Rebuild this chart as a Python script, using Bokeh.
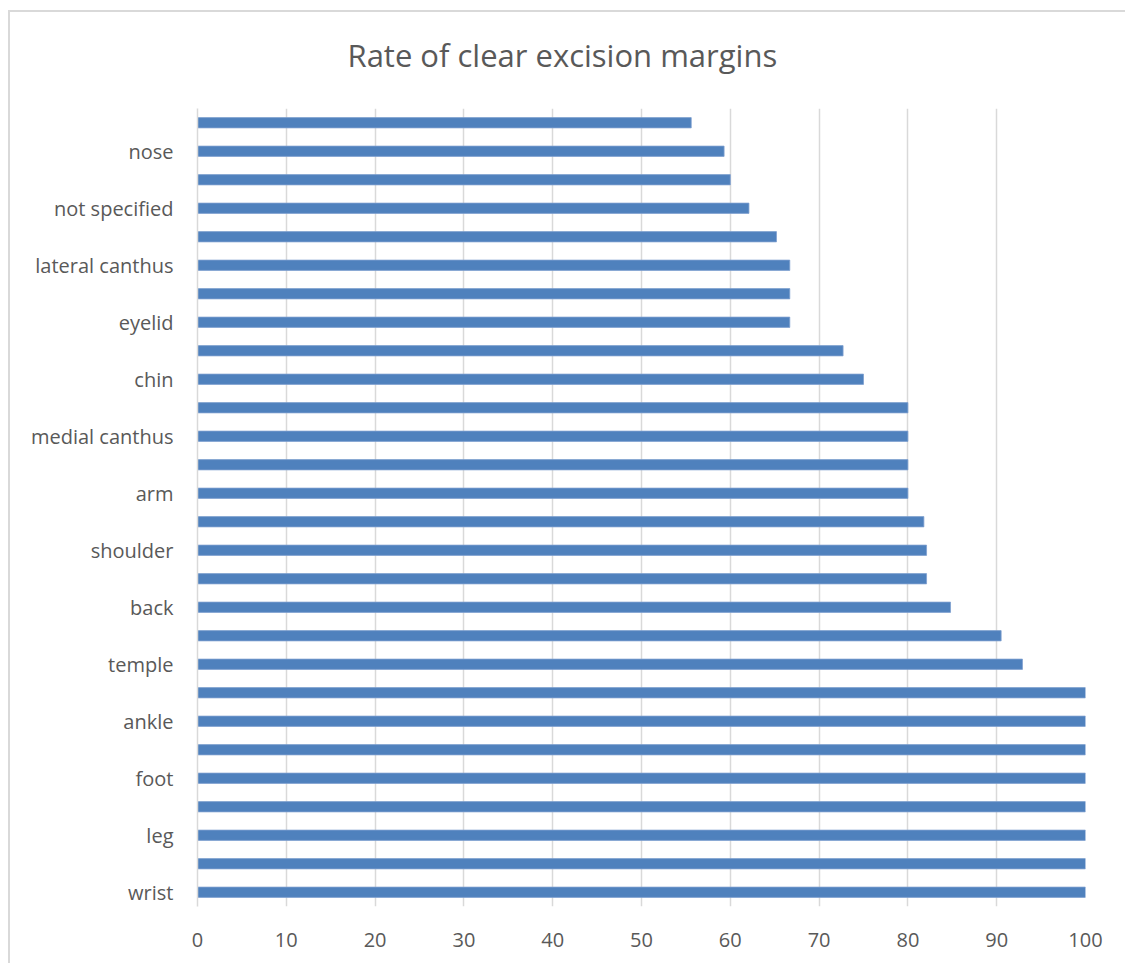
from bokeh.plotting import figure
from bokeh.models import FixedTicker, Range1d
from bokeh.embed import file_html
from bokeh.resources import INLINE

# Data (bottom to top)
title_text = "Rate of clear excision margins"
labels = ["wrist", "", "leg", "", "foot", "", "ankle", "", "temple", "", "back", "",
          "shoulder", "", "arm", "", "medial canthus", "", "chin", "", "eyelid", "",
          "lateral canthus", "", "not specified", "", "nose", ""]
values = [100, 100, 100, 100, 100, 100, 100, 100, 92.9, 90.5, 84.8, 82.1,
          82.1, 81.8, 80, 80, 80, 80, 75, 72.7, 66.7, 66.7,
          66.7, 65.2, 62.1, 60, 59.3, 55.6]
x_ticks = [0, 10, 20, 30, 40, 50, 60, 70, 80, 90, 100]

positions = list(range(len(values)))

p = figure(width=1117, height=963, output_backend="svg", toolbar_location=None,
           x_range=Range1d(0, 100), y_range=Range1d(-0.5, len(values) - 0.5),
           title=title_text)
p.margin = (0, 0, 0, 8)
p.border_fill_color = None
p.background_fill_color = None
p.styles = {
    "background": "linear-gradient(#d9d9d9, #d9d9d9) 0 10px / 100% 2px no-repeat, "
                  "linear-gradient(#d9d9d9, #d9d9d9) 0 10px / 2px 100% no-repeat, white",
}

p.min_border_left = 189
p.min_border_right = 40
p.min_border_top = 108
p.min_border_bottom = 57

p.title.align = "left"
p.title.vertical_align = "top"
p.title.offset = 150
p.title.text_font = "Open Sans"
p.title.text_font_size = "31px"
p.title.text_font_style = "normal"
p.title.text_color = "#595959"
p.title.standoff = 62

p.hbar(y=positions, right=values, left=0, height=0.36,
       fill_color="#4f81bd", line_color="#7f9fcf", line_width=0.8)

p.outline_line_color = None
p.ygrid.grid_line_color = None
p.xgrid.grid_line_color = "#d9d9d9"
p.xgrid.grid_line_width = 1.5
p.xgrid.ticker = FixedTicker(ticks=x_ticks)

p.xaxis.ticker = FixedTicker(ticks=x_ticks)
p.xaxis.axis_line_color = None
p.xaxis.major_tick_line_color = None
p.xaxis.minor_tick_line_color = None
p.xaxis.major_label_text_font = "Open Sans"
p.xaxis.major_label_text_font_size = "20px"
p.xaxis.major_label_text_color = "#595959"
p.xaxis.major_label_standoff = 20

p.yaxis.ticker = FixedTicker(ticks=[i for i, l in enumerate(labels) if l])
p.yaxis.major_label_overrides = {i: l for i, l in enumerate(labels) if l}
p.yaxis.axis_line_color = "#d9d9d9"
p.yaxis.axis_line_width = 1.5
p.yaxis.major_tick_line_color = None
p.yaxis.minor_tick_line_color = None
p.yaxis.major_label_text_font = "Open Sans"
p.yaxis.major_label_text_font_size = "20px"
p.yaxis.major_label_text_color = "#595959"
p.yaxis.major_label_standoff = 18

open("out.html", "w").write(file_html(p, INLINE))
